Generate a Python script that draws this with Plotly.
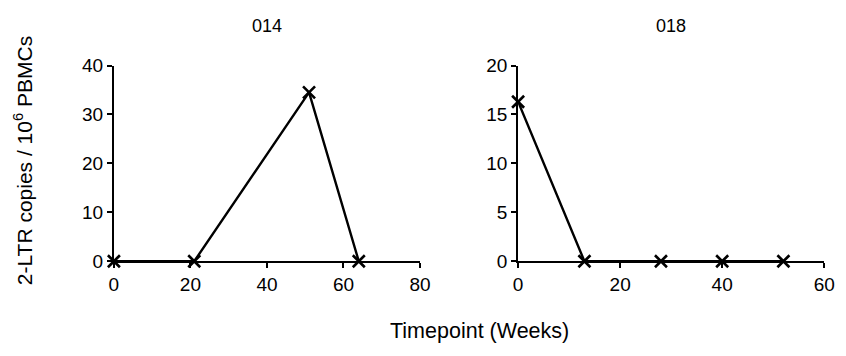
import plotly.graph_objects as go

# Data
weeks_014 = [0, 21, 51, 64]
copies_014 = [0, 0, 34.5, 0]
weeks_018 = [0, 13, 28, 40, 52]
copies_018 = [16.3, 0, 0, 0, 0]
panel_titles = ["014", "018"]

W, H = 846, 356
FONT = "Liberation Sans, Arial, sans-serif"

fig = go.Figure()
marker = dict(symbol="x-thin", size=12, line=dict(width=2.6, color="black"), color="black")
fig.add_trace(go.Scatter(x=weeks_014, y=copies_014, mode="lines+markers",
                         line=dict(color="black", width=2.4), marker=marker,
                         cliponaxis=False, xaxis="x", yaxis="y", showlegend=False))
fig.add_trace(go.Scatter(x=weeks_018, y=copies_018, mode="lines+markers",
                         line=dict(color="black", width=2.4), marker=marker,
                         cliponaxis=False, xaxis="x2", yaxis="y2", showlegend=False))

ydom = [1 - 267 / H, 1 - 59 / H]
axcommon = dict(showgrid=False, zeroline=False, showline=True, linecolor="black",
                linewidth=2, ticks="outside", ticklen=5, tickwidth=2, tickcolor="black",
                tickfont=dict(family=FONT, size=19, color="black"), fixedrange=True)

fig.update_layout(
    width=W, height=H, autosize=False,
    margin=dict(l=0, r=0, t=0, b=0),
    paper_bgcolor="white", plot_bgcolor="white",
    xaxis=dict(domain=[111 / W, 423 / W], range=[0, 80], tickvals=[0, 20, 40, 60, 80],
               anchor="y", **axcommon),
    yaxis=dict(domain=ydom, range=[0, 40], tickvals=[0, 10, 20, 30, 40],
               anchor="x", ticklabelstandoff=0, **axcommon),
    xaxis2=dict(domain=[523 / W, 835 / W], range=[0, 60], tickvals=[0, 20, 40, 60],
                anchor="y2", **axcommon),
    yaxis2=dict(domain=ydom, range=[0, 20], tickvals=[0, 5, 10, 15, 20],
                anchor="x2", ticklabelstandoff=0, **axcommon),
)

for title, cx in zip(panel_titles, [267, 679]):
    fig.add_annotation(text=title, x=cx / W, y=1 - 17.5 / H, xref="paper", yref="paper",
                       showarrow=False, xanchor="center", yanchor="middle",
                       font=dict(family=FONT, size=18, color="black"))

fig.add_annotation(text="Timepoint (Weeks)", x=484 / W, y=1 - 341 / H, xref="paper", yref="paper",
                   showarrow=False, xanchor="center", yanchor="middle",
                   font=dict(family=FONT, size=21.5, color="black"))
fig.add_annotation(text="2-LTR copies / 10<sup>6</sup> PBMCs", x=18 / W, y=1 - 160 / H,
                   xref="paper", yref="paper", textangle=-90,
                   showarrow=False, xanchor="center", yanchor="middle",
                   font=dict(family=FONT, size=21, color="black"))

fig.write_html("out.html",
               post_script="document.body.style.margin='0';document.body.style.overflow='hidden';")
